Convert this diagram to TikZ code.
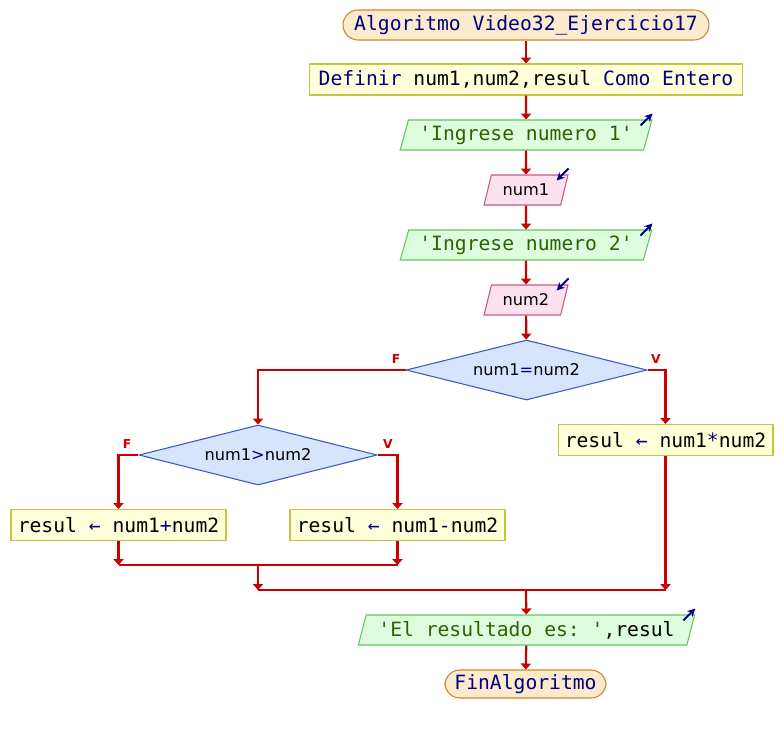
\documentclass[tikz,border=0pt]{standalone}
\usepackage{fontspec}
\setmonofont{DejaVu Sans Mono}
\setsansfont{DejaVu Sans}
\usetikzlibrary{shapes.geometric, arrows.meta, calc}

\definecolor{kwcol}{RGB}{0,0,128}
\definecolor{strcol}{RGB}{40,100,0}
\definecolor{linecol}{RGB}{200,0,0}
\definecolor{termfill}{RGB}{252,234,204}
\definecolor{termdraw}{RGB}{200,134,50}
\definecolor{procfill}{RGB}{255,255,218}
\definecolor{procdraw}{RGB}{196,196,70}
\definecolor{outfill}{RGB}{222,252,222}
\definecolor{outdraw}{RGB}{100,196,100}
\definecolor{infill}{RGB}{252,226,238}
\definecolor{indraw}{RGB}{196,90,130}
\definecolor{condfill}{RGB}{214,228,252}
\definecolor{conddraw}{RGB}{60,90,196}

\newcommand{\kw}[1]{\textcolor{kwcol}{#1}}
\newcommand{\str}[1]{\textcolor{strcol}{#1}}

\tikzset{
  base/.style={font=\fontsize{11.2}{13}\selectfont\ttfamily, inner sep=0pt, line width=0.6pt},
  term/.style={base, rounded corners=0.3cm, fill=termfill, draw=termdraw, minimum height=0.6cm},
  proc/.style={base, fill=procfill, draw=procdraw, minimum height=0.62cm},
  outbox/.style={base, trapezium, trapezium left angle=68, trapezium right angle=112,
    trapezium stretches=true, fill=outfill, draw=outdraw, minimum height=0.6cm},
  inbox/.style={outbox, fill=infill, draw=indraw, font=\fontsize{9.2}{11}\selectfont\sffamily},
  cond/.style={base, diamond, aspect=4, fill=condfill, draw=conddraw,
    font=\fontsize{9.2}{11}\selectfont\sffamily, minimum height=1.2cm},
  flow/.style={draw=linecol, line width=1.25pt, -{Triangle[length=3.4pt,width=5.8pt]}},
  link/.style={draw=linecol, line width=1.25pt},
  branch/.style={text=linecol, font=\fontsize{7}{8}\selectfont\sffamily\bfseries, inner sep=0pt},
  ioarrow/.style={draw=kwcol, line width=1.1pt, -{Stealth[length=4.5pt,width=4.5pt]}}
}

\begin{document}
\begin{tikzpicture}[x=0.02cm, y=-0.02cm]
  \useasboundingbox[fill=white] (0,0) rectangle (784,735);

  % main column
  \node[term, minimum width=7.32cm] (start) at (526,25) {\kw{Algoritmo Video32\_Ejercicio17}};
  \node[proc, minimum width=8.68cm] (def) at (526,79.5) {\kw{Definir} num1,num2,resul \kw{Como Entero}};
  \node[outbox, minimum width=5.04cm] (out1) at (526,135) {\str{'Ingrese numero 1'}};
  \node[inbox, minimum width=1.68cm] (in1) at (526,190) {num1};
  \node[outbox, minimum width=5.04cm] (out2) at (526,245) {\str{'Ingrese numero 2'}};
  \node[inbox, minimum width=1.68cm] (in2) at (526,300) {num2};
  \node[cond, minimum width=4.82cm] (eq) at (526.5,370) {num1\kw{=}num2};

  % branches
  \node[proc, minimum width=4.3cm] (mul) at (665.5,440) {resul \kw{←} num1\kw{*}num2};
  \node[cond, minimum width=4.76cm] (gt) at (258,455) {num1\kw{>}num2};
  \node[proc, minimum width=4.3cm] (add) at (118.5,525) {resul \kw{←} num1\kw{+}num2};
  \node[proc, minimum width=4.3cm] (sub) at (397.5,525) {resul \kw{←} num1\kw{-}num2};

  % output and end
  \node[outbox, minimum width=6.74cm] (out3) at (526.5,630) {\str{'El resultado es: '},resul};
  \node[term, minimum width=3.22cm, minimum height=0.56cm] (stop) at (525.5,684) {\kw{FinAlgoritmo}};

  \coordinate (j1) at (258,565);
  \coordinate (j2) at (526,590);

  % straight flow
  \draw[flow] (start) -- (def);
  \draw[flow] (def) -- (out1);
  \draw[flow] (out1) -- (in1);
  \draw[flow] (in1) -- (out2);
  \draw[flow] (out2) -- (in2);
  \draw[flow] (in2) -- (eq);

  % decisions
  \draw[flow] (eq.west) -| (gt.north);
  \draw[flow] (eq.east) -| (mul.north);
  \draw[flow] (gt.west) -| (add.north);
  \draw[flow] (gt.east) -| (sub.north);
  \node[branch] (eqF) at (396,359) {F};
  \node[branch] (eqV) at (656,359) {V};
  \node[branch] (gtF) at (127,444) {F};
  \node[branch] (gtV) at (388,444) {V};

  % merges
  \draw[flow] (add.south) -- (add.south |- j1);
  \draw[flow] (sub.south) -- (sub.south |- j1);
  \draw[link] (add.south |- j1) -- (sub.south |- j1);
  \draw[flow] (j1) -- (j1 |- j2);
  \draw[flow] (mul.south) -- (mul.south |- j2);
  \draw[link] (j1 |- j2) -- (mul.south |- j2);
  \draw[flow] (j2) -- (out3);
  \draw[flow] (out3) -- (stop);

  % io marks
  \draw[ioarrow] ([shift={(-12,6)}]out1.top right corner) -- ++(12,-12);
  \draw[ioarrow] ([shift={(-12,6)}]out2.top right corner) -- ++(12,-12);
  \draw[ioarrow] ([shift={(-12,6)}]out3.top right corner) -- ++(12,-12);
  \draw[ioarrow] ([shift={(0,-6)}]in1.top right corner) -- ++(-12,12);
  \draw[ioarrow] ([shift={(0,-6)}]in2.top right corner) -- ++(-12,12);
\end{tikzpicture}
\end{document}
